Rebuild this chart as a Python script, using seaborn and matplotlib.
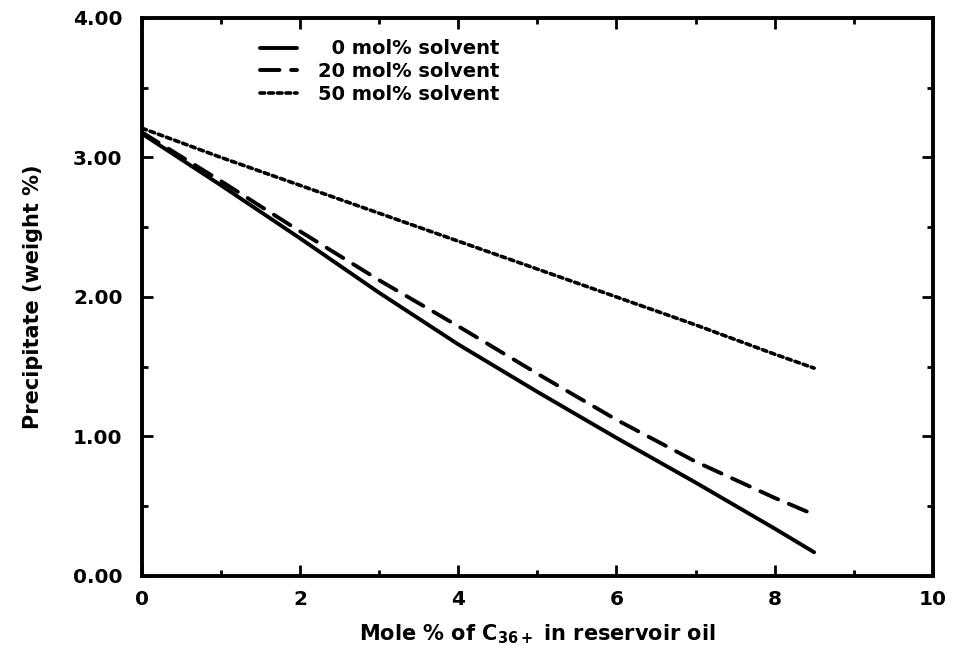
import matplotlib
matplotlib.use("Agg")
import matplotlib.pyplot as plt
from matplotlib.ticker import MultipleLocator, FormatStrFormatter
import numpy as np
import pandas as pd
import seaborn as sns

# Mole % of heavy fraction in the reservoir oil
mole_pct = [0, 1, 2, 3, 4, 5, 6, 7, 8, 8.5]

# Precipitate (weight %) for each solvent level
precip_0 = [3.17, 2.80, 2.42, 2.03, 1.66, 1.32, 0.99, 0.67, 0.34, 0.17]
precip_20 = [3.18, 2.83, 2.47, 2.12, 1.79, 1.45, 1.12, 0.82, 0.56, 0.44]
precip_50 = [3.21, 3.00, 2.80, 2.60, 2.40, 2.20, 2.00, 1.80, 1.59, 1.49]

series_labels = ["\u20070 mol% solvent", "20 mol% solvent", "50 mol% solvent"]

sns.set_style("ticks")
plt.rcParams["font.family"] = ["DejaVu Sans"]
plt.rcParams["font.weight"] = "bold"
plt.rcParams["mathtext.fontset"] = "dejavusans"
plt.rcParams["text.color"] = "black"
plt.rcParams["axes.labelcolor"] = "black"
plt.rcParams["xtick.color"] = "black"
plt.rcParams["ytick.color"] = "black"
plt.rcParams["axes.edgecolor"] = "black"

df = pd.DataFrame({
    "x": mole_pct * 3,
    "y": precip_0 + precip_20 + precip_50,
    "series": [series_labels[0]] * len(mole_pct)
              + [series_labels[1]] * len(mole_pct)
              + [series_labels[2]] * len(mole_pct),
})

fig = plt.figure(figsize=(9.55, 6.56), dpi=100)
ax = fig.add_axes([0.1487, 0.122, 0.828, 0.8506])

dash_map = {series_labels[0]: "", series_labels[1]: (5, 3), series_labels[2]: (1.3, 1.1)}
sns.lineplot(data=df, x="x", y="y", style="series", dashes=dash_map,
             color="black", linewidth=2.8, ax=ax, legend=False)

lines = ax.get_lines()
for ln in lines:
    ln.set_solid_capstyle("round")
    ln.set_dash_capstyle("round")
lines[2].set_linewidth(2.6)

ax.set_xlim(0, 10)
ax.set_ylim(0, 4)
ax.xaxis.set_major_locator(MultipleLocator(2))
ax.xaxis.set_minor_locator(MultipleLocator(1))
ax.yaxis.set_major_locator(MultipleLocator(1))
ax.yaxis.set_minor_locator(MultipleLocator(0.5))
ax.yaxis.set_major_formatter(FormatStrFormatter("%.2f"))

for sp in ax.spines.values():
    sp.set_linewidth(2.8)
    sp.set_color("black")
    sp.set_visible(True)

ax.tick_params(which="major", direction="in", length=8, width=2,
               top=True, right=True, labelsize=14.5, colors="black")
ax.tick_params(which="minor", direction="in", length=4, width=2,
               top=True, right=True, colors="black")
ax.tick_params(axis="y", which="major", pad=14)
ax.tick_params(axis="x", which="major", pad=10)
for lab in ax.get_xticklabels() + ax.get_yticklabels():
    lab.set_fontweight("bold")

ax.set_xlabel(r"Mole % of C$_{\mathbf{36+}}$ in reservoir oil",
              fontsize=15, fontweight="bold", labelpad=10)
ax.set_ylabel("Precipitate (weight %)", fontsize=15, fontweight="bold", labelpad=22)

leg = ax.legend(lines, series_labels, loc="upper left",
                bbox_to_anchor=(0.127, 0.993), frameon=False,
                handlelength=1.9, handletextpad=1.1, labelspacing=0.2,
                prop={"size": 14, "weight": "bold"})

fig.savefig("out.png", dpi=100)
